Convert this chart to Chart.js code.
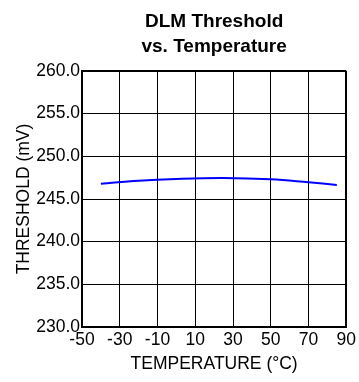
<!DOCTYPE html>
<html>
<head>
<meta charset="utf-8">
<script src="https://cdn.jsdelivr.net/npm/chart.js@4"></script>
<style>
  html, body { margin: 0; padding: 0; background: #fff; }
  #wrap { width: 359px; height: 382px; }
</style>
</head>
<body>
<div id="wrap"><canvas id="chart"></canvas></div>
<script>
// values
const temps = [-40, -20, 0, 25, 50, 70, 85];
const threshold = [246.8, 247.15, 247.35, 247.45, 247.3, 246.95, 246.65];
const xTicks = [-50, -30, -10, 10, 30, 50, 70, 90];
const yTicks = [230, 235, 240, 245, 250, 255, 260];
const titleLines = ['DLM Threshold', 'vs. Temperature'];

const FONT = '"Liberation Sans", Arial, sans-serif';

// heavier outer frame, thin inner grid
const edgeWidth = (ticks) => (c) => (c.index === 0 || c.index === ticks.length - 1) ? 2 : 1;

// title centred over the plot area rather than the whole canvas
const plotTitle = {
  id: 'plotTitle',
  afterDraw(chart) {
    const { ctx, chartArea } = chart;
    const cx = (chartArea.left + chartArea.right) / 2;
    ctx.save();
    ctx.fillStyle = '#000';
    ctx.font = 'bold 19px ' + FONT;
    ctx.textAlign = 'center';
    ctx.textBaseline = 'middle';
    titleLines.forEach((t, i) => ctx.fillText(t, cx, 22 + i * 24.5));
    ctx.restore();
  }
};

new Chart(document.getElementById('chart'), {
  type: 'line',
  data: {
    datasets: [{
      data: temps.map((t, i) => ({ x: t, y: threshold[i] })),
      borderColor: '#0000ff',
      borderWidth: 2,
      pointRadius: 0,
      tension: 0.4,
      fill: false
    }]
  },
  plugins: [plotTitle],
  options: {
    responsive: true,
    maintainAspectRatio: false,
    animation: false,
    layout: { padding: { left: 0, right: 12, top: 71, bottom: 0 } },
    plugins: {
      legend: { display: false },
      tooltip: { enabled: false },
      title: { display: false }
    },
    scales: {
      x: {
        type: 'linear',
        min: -50, max: 90,
        afterBuildTicks: (s) => { s.ticks = xTicks.map(v => ({ value: v })); },
        afterFit: (s) => { s.height = 55; },
        grid: { color: '#000', lineWidth: edgeWidth(xTicks), drawTicks: false },
        border: { color: '#000', width: 2 },
        ticks: { color: '#000', font: { family: FONT, size: 17.5 }, padding: 3, maxRotation: 0, autoSkip: false },
        title: {
          display: true, text: 'TEMPERATURE (°C)', color: '#000',
          font: { family: FONT, size: 17.5 }, padding: { top: 0, bottom: 7 }
        }
      },
      y: {
        min: 230, max: 260,
        afterBuildTicks: (s) => { s.ticks = yTicks.map(v => ({ value: v })); },
        afterFit: (s) => { s.width = 82; },
        grid: { color: '#000', lineWidth: edgeWidth(yTicks), drawTicks: false },
        border: { color: '#000', width: 2 },
        ticks: { color: '#000', font: { family: FONT, size: 17.5 }, padding: 2, callback: v => v.toFixed(1) },
        title: {
          display: true, text: 'THRESHOLD (mV)', color: '#000',
          font: { family: FONT, size: 17.5 }, padding: { top: 14, bottom: 0 }
        }
      }
    }
  }
});
</script>
</body>
</html>
